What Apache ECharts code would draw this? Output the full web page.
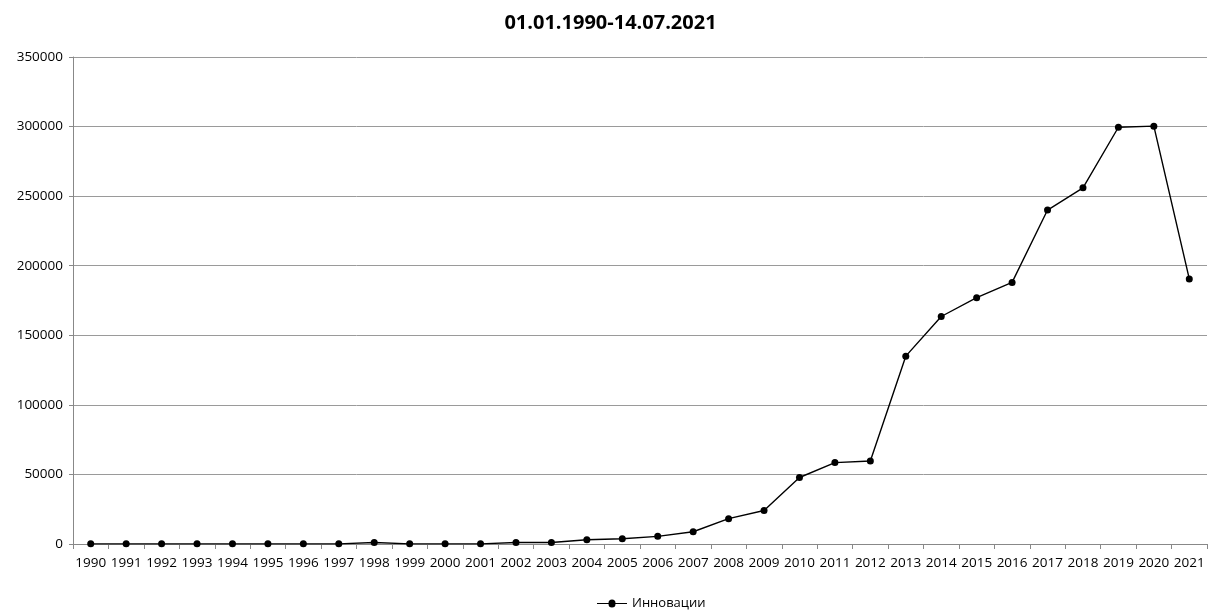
<!DOCTYPE html>
<html><head><meta charset="utf-8">
<script src="https://cdn.jsdelivr.net/npm/echarts@6/dist/echarts.min.js"></script>
<style>html,body{margin:0;padding:0;background:#fff}#c{width:1221px;height:615px}</style>
</head><body><div id="c"></div>
<script>
const categories = ['1990','1991','1992','1993','1994','1995','1996','1997','1998','1999','2000','2001','2002','2003','2004','2005','2006','2007','2008','2009','2010','2011','2012','2013','2014','2015','2016','2017','2018','2019','2020','2021'];
const values = [100,100,100,100,100,100,100,100,1100,100,100,100,1100,1100,3100,3800,5500,8800,18200,24100,47800,58500,59600,135000,163500,177000,188000,240000,256000,299500,300300,190500];
const seriesName = 'Инновации';
const titleText = '01.01.1990-14.07.2021';
const font = '"Open Sans", "Noto Sans", sans-serif';
const chart = echarts.init(document.getElementById('c'));
chart.setOption({
  animation: false,
  title: {text: titleText, left: 'center', top: 8, textStyle: {fontFamily: font, fontSize: 20, fontWeight: 'bold', color: '#000'}},
  grid: {left: 73, right: 14, top: 57, bottom: 71},
  legend: {bottom: 0, left: 592, itemWidth: 30, itemHeight: 8,
    icon: 'path://M0,3.5 L11.5,3.5 A3.5,3.5 0 1 1 18.5,3.5 L30,3.5 L30,4.5 L18.5,4.5 A3.5,3.5 0 1 1 11.5,4.5 L0,4.5 Z',
    data: [seriesName],
    textStyle: {fontFamily: font, fontSize: 13, color: '#000'}, itemGap: 4},
  xAxis: {type: 'category', data: categories, boundaryGap: true,
    axisLine: {lineStyle: {color: '#888', width: 1}},
    axisTick: {show: true, alignWithLabel: false, length: 5, lineStyle: {color: '#888'}},
    axisLabel: {fontFamily: font, fontSize: 13.5, color: '#000', margin: 12, interval: 0}},
  yAxis: {type: 'value', min: 0, max: 350000, interval: 50000,
    axisLine: {show: true, lineStyle: {color: '#888'}},
    axisTick: {show: true, length: 4, lineStyle: {color: '#888'}},
    splitLine: {lineStyle: {color: '#9a9a9a', width: 1}},
    axisLabel: {fontFamily: font, fontSize: 13.5, color: '#000', margin: 10, formatter: v => String(v)}},
  series: [{name: seriesName, type: 'line', data: values, symbol: 'circle', symbolSize: 7,
    lineStyle: {color: '#000', width: 1.4}, itemStyle: {color: '#000'}}]
});
</script></body></html>
